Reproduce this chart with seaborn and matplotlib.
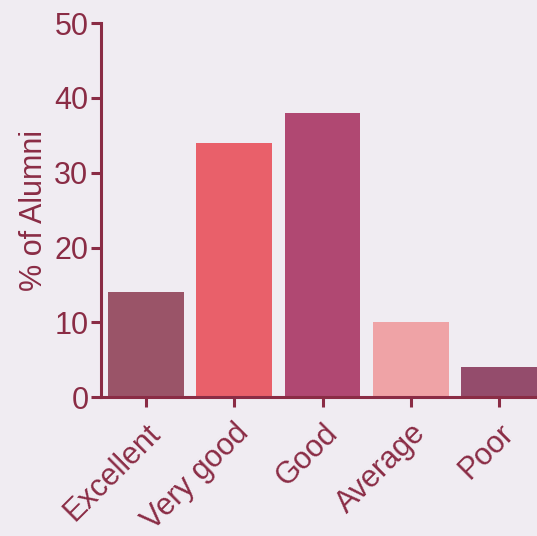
import matplotlib
matplotlib.use("Agg")
import matplotlib.pyplot as plt
import seaborn as sns
import pandas as pd

# ratings of the course by alumni
categories = ['Excellent', 'Very good', 'Good', 'Average', 'Poor']
percent = [14, 34, 38, 10, 4]
bar_colors = ['#9A5468', '#E9606A', '#B04872', '#EFA3A6', '#944C6C']

ink = '#8A2C45'
bg = '#F0ECF2'

sns.set_style('ticks')
plt.rcParams['font.family'] = ['Liberation Sans', 'DejaVu Sans']

df = pd.DataFrame({'Rating': categories, 'Percent': percent})

fig = plt.figure(figsize=(5.37, 5.36), dpi=100, facecolor=bg)
ax = fig.add_axes([0.188, 0.259, 0.812, 0.698])
ax.set_facecolor(bg)

sns.barplot(data=df, x='Rating', y='Percent', hue='Rating', palette=bar_colors,
            legend=False, width=0.86, saturation=1, linewidth=0, ax=ax)

ax.set_xlim(-0.51, 4.43)
ax.set_ylim(0, 50)
ax.set_yticks([0, 10, 20, 30, 40, 50])

ax.set_xlabel('')
ax.set_ylabel('% of Alumni', color=ink, fontsize=22, labelpad=4)

for s in ['top', 'right']:
    ax.spines[s].set_visible(False)
for s in ['left', 'bottom']:
    ax.spines[s].set_color(ink)
    ax.spines[s].set_linewidth(2.2)

ax.tick_params(axis='both', colors=ink, width=2.2, length=7, labelsize=22, pad=2)
plt.setp(ax.get_xticklabels(), rotation=45, ha='right', rotation_mode='anchor')
ax.tick_params(axis='x', pad=8)

plt.savefig('out.png', dpi=100, facecolor=bg)
